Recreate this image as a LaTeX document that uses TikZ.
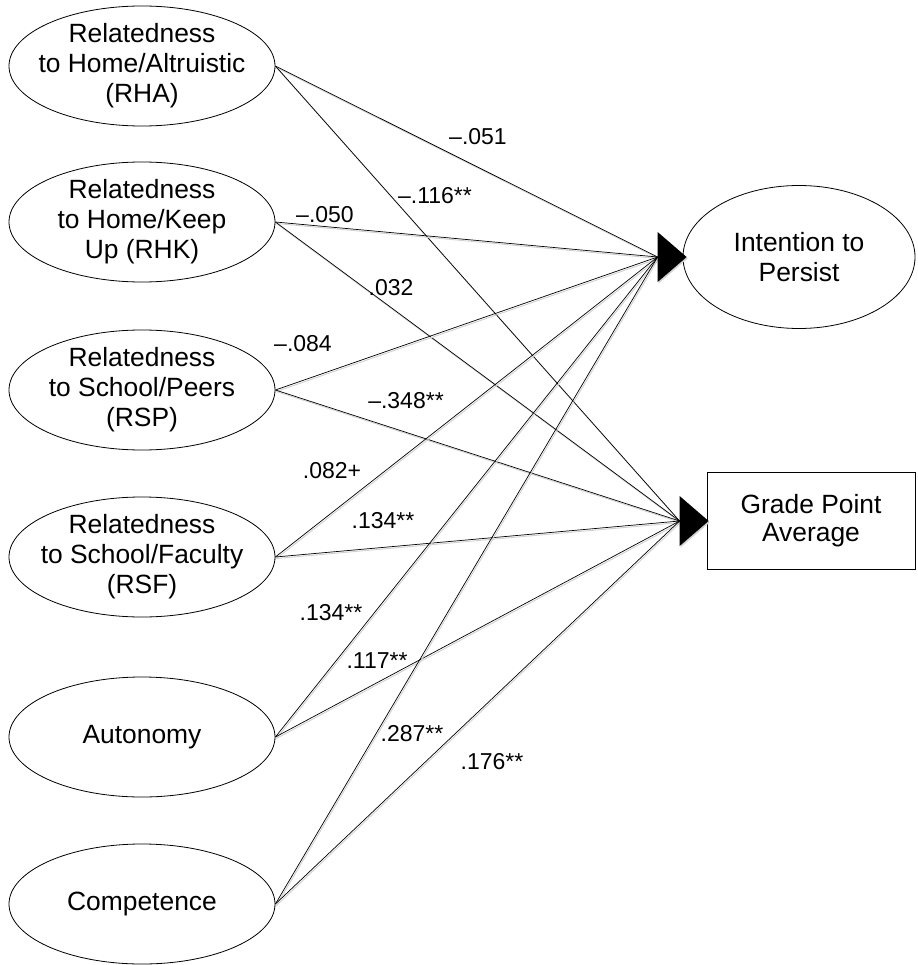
\documentclass[tikz,border=0pt]{standalone}
\usepackage{fontspec}
\setmainfont{Liberation Sans}
\usetikzlibrary{shapes.geometric}

\tikzset{
  latent/.style={draw, ellipse, line width=0.8pt, minimum width=266pt, minimum height=120pt,
    inner xsep=-40pt, inner ysep=-25pt, align=center, font=\fontsize{26.4}{30}\selectfont},
  outcome/.style={draw, line width=0.8pt, minimum width=208pt, minimum height=97pt,
    align=center, font=\fontsize{26.4}{28}\selectfont},
  coef/.style={inner sep=0pt, font=\fontsize{23}{27}\selectfont},
  pathline/.style={line width=0.7pt},
  shadeline/.style={line width=0.9pt, black!18},
}

\begin{document}
\begin{tikzpicture}[x=1pt, y=-1pt]
  \useasboundingbox (0,0) rectangle (917,965);

  \node[latent] (rha)  at (142,66)  {Relatedness\\to Home/Altruistic\\(RHA)};
  \node[latent] (rhk)  at (142,222) {Relatedness\\to Home/Keep\\Up (RHK)};
  \node[latent] (rsp)  at (142,390) {Relatedness\\to School/Peers\\(RSP)};
  \node[latent] (rsf)  at (142,557) {Relatedness\\to School/Faculty\\(RSF)};
  \node[latent] (aut)  at (142,737) {Autonomy};
  \node[latent] (comp) at (142,904) {Competence};

  \node[latent, minimum width=232pt, minimum height=143pt] (ip) at (799,257) {Intention to\\Persist};
  \node[outcome] (gpa) at (811,521) {Grade Point\\Average};

  \path
    coordinate (ipin)  at ([xshift=-25pt]ip.west)
    coordinate (gpain) at ([xshift=-27pt]gpa.west)
  ;

  \foreach \src/\dst in {rha/ipin, rha/gpain, rhk/ipin, rhk/gpain, rsp/ipin, rsp/gpain,
      rsf/ipin, rsf/gpain, aut/ipin, aut/gpain, comp/ipin, comp/gpain} {
    \draw[shadeline] ([shift={(1,1.5)}]\src.east) -- ([shift={(1,1.5)}]\dst);
    \draw[pathline] (\src.east) -- (\dst);
  }

  \foreach \tip in {ipin, gpain} {
    \fill[black!18] ([shift={(1,-23.5)}]\tip) -- ++(29,25) -- ++(-29,25) -- cycle;
    \fill ([shift={(0,-25)}]\tip) -- ++(29,25) -- ++(-29,25) -- cycle;
  }

  \node[coef] (c-rha-ip)   at (478,137) {--.051};
  \node[coef] (c-rha-gpa)  at (435,196) {--.116**};
  \node[coef] (c-rhk-ip)   at (325,215) {--.050};
  \node[coef] (c-rhk-gpa)  at (391,288) {.032};
  \node[coef] (c-rsp-ip)   at (303,344) {--.084};
  \node[coef] (c-rsp-gpa)  at (406,401) {--.348**};
  \node[coef] (c-rsf-ip)   at (332,471) {.082+};
  \node[coef] (c-rsf-gpa)  at (383,521) {.134**};
  \node[coef] (c-aut-ip)   at (331,613) {.134**};
  \node[coef] (c-aut-gpa)  at (377,661) {.117**};
  \node[coef] (c-comp-ip)  at (412,734) {.287**};
  \node[coef] (c-comp-gpa) at (492,762) {.176**};

\end{tikzpicture}
\end{document}
